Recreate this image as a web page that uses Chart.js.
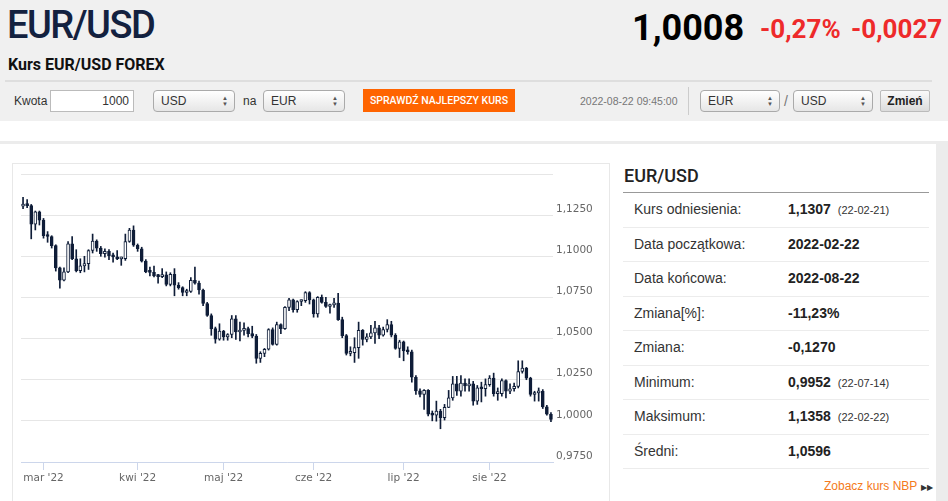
<!DOCTYPE html>
<html lang="pl">
<head>
<meta charset="utf-8">
<title>Kurs EUR/USD FOREX</title>
<script src="https://cdn.jsdelivr.net/npm/chart.js@4.4.1/dist/chart.umd.min.js"></script>
<style>
body{margin:0;width:948px;height:501px;overflow:hidden;background:#fff;font-family:"Liberation Sans",Arial,sans-serif;position:relative;color:#333}
.abs{position:absolute;white-space:nowrap}
.top{left:0;top:0;width:948px;height:121px;background:#f0f0f0}
.title{left:7px;top:6px;font:500 38px/1 Roboto,sans-serif;letter-spacing:-1.5px;color:#13213f}
.big{left:632px;top:10px;font:700 36px/1 Roboto,sans-serif;color:#000}
.red{top:16px;font:700 26px/1 Roboto,sans-serif;color:#ee2a2a}
.sub{left:8px;top:57px;font:700 16px/1 Roboto,sans-serif;color:#111}
.sep{left:5px;top:80px;width:927px;height:2px;background:#dedede}
.lbl{top:90px;line-height:22px;font-size:12px;color:#333}
.inp{top:90px;height:22px;box-sizing:border-box;border:1px solid #bbb;background:#fff;font-size:12px;line-height:20px;text-align:right;padding-right:4px}
.sel{top:90px;height:22px;box-sizing:border-box;border:1px solid #aaa;border-radius:4px;background:linear-gradient(#fff,#e6e6e6);font-size:12px;line-height:20px;padding-left:7px}
.sel i{position:absolute;right:6px;top:4px;font-style:normal;font-size:6px;line-height:6px;color:#555;text-align:center}
.btn{left:363px;top:89px;width:152px;height:23px;background:#ff6400;color:#fff;font:500 10.5px/23px Roboto,sans-serif;text-align:center}
.ts{left:580px;top:90px;line-height:22px;font-size:10.5px;color:#777}
.vsep{left:688px;top:87px;width:1px;height:28px;background:#ccc}
.zm{left:880px;top:90px;width:50px;height:22px;box-sizing:border-box;border:1px solid #bbb;border-radius:2px;background:linear-gradient(#fafafa,#dcdcdc);font-weight:700;font-size:12px;line-height:20px;text-align:center;color:#222}
.band{left:0;top:141px;width:948px;height:3px;background:#ececec}
.rside{left:936px;top:141px;width:12px;height:360px;background:#ececec}
.box{left:12px;top:163px;width:596px;height:345px;border:1px solid #e8e8e8}
.cv{left:13px;top:164px;width:595px;height:337px}
.ph{left:624px;top:167px;font:500 18px/1 Roboto,sans-serif;color:#222}
.pl{left:623px;top:192px;width:306px;height:1px;background:#999}
.rows{left:623px;top:193px;width:306px}
.row{position:relative;height:33.5px;border-bottom:1px solid #ececec;font-size:14px;line-height:33.5px}
.row span{position:absolute;left:11px}
.row b{position:absolute;left:165px;color:#222}
.row b small{font-weight:400;font-size:11px;margin-left:7px;color:#333}
.nbp{left:824px;top:479px;font-size:12px;line-height:14px;color:#f47a20}
.nbp em{font-style:normal;color:#333;font-size:8px;margin-left:4px}
</style>
</head>
<body>
<div class="abs top"></div>
<div class="abs title">EUR/USD</div>
<div class="abs big">1,0008</div>
<div class="abs red" style="left:760px">-0,27%</div>
<div class="abs red" style="left:851px">-0,0027</div>
<div class="abs sub">Kurs EUR/USD FOREX</div>
<div class="abs sep"></div>

<div class="abs lbl" style="left:14px">Kwota</div>
<div class="abs inp" style="left:50px;width:84px">1000</div>
<div class="abs sel" style="left:153px;width:82px">USD<i>▲<br>▼</i></div>
<div class="abs lbl" style="left:243px">na</div>
<div class="abs sel" style="left:263px;width:82px">EUR<i>▲<br>▼</i></div>
<div class="abs btn">SPRAWDŹ NAJLEPSZY KURS</div>
<div class="abs ts">2022-08-22 09:45:00</div>
<div class="abs vsep"></div>
<div class="abs sel" style="left:700px;width:80px">EUR<i>▲<br>▼</i></div>
<div class="abs lbl" style="left:784px;font-size:14px;color:#777">/</div>
<div class="abs sel" style="left:793px;width:80px">USD<i>▲<br>▼</i></div>
<div class="abs zm">Zmień</div>

<div class="abs band"></div>
<div class="abs rside"></div>
<div class="abs box"></div>
<div class="abs cv"><canvas id="kurs"></canvas></div>

<div class="abs ph">EUR/USD</div>
<div class="abs pl"></div>
<div class="abs rows">
  <div class="row"><span>Kurs odniesienia:</span><b>1,1307<small>(22-02-21)</small></b></div>
  <div class="row"><span>Data początkowa:</span><b>2022-02-22</b></div>
  <div class="row"><span>Data końcowa:</span><b>2022-08-22</b></div>
  <div class="row"><span>Zmiana[%]:</span><b>-11,23%</b></div>
  <div class="row"><span>Zmiana:</span><b>-0,1270</b></div>
  <div class="row"><span>Minimum:</span><b>0,9952<small>(22-07-14)</small></b></div>
  <div class="row"><span>Maksimum:</span><b>1,1358<small>(22-02-22)</small></b></div>
  <div class="row"><span>Średni:</span><b>1,0596</b></div>
</div>
<div class="abs nbp">Zobacz kurs NBP<em>▶▶</em></div>

<script>
// sesje 2022-02-22 .. 2022-08-22
var dates = [
  '2022-02-22','2022-02-23','2022-02-24','2022-02-25','2022-02-28',
  '2022-03-01','2022-03-02','2022-03-03','2022-03-04','2022-03-07','2022-03-08','2022-03-09','2022-03-10','2022-03-11',
  '2022-03-14','2022-03-15','2022-03-16','2022-03-17','2022-03-18','2022-03-21','2022-03-22','2022-03-23','2022-03-24',
  '2022-03-25','2022-03-28','2022-03-29','2022-03-30','2022-03-31',
  '2022-04-01','2022-04-04','2022-04-05','2022-04-06','2022-04-07','2022-04-08','2022-04-11','2022-04-12','2022-04-13',
  '2022-04-14','2022-04-15','2022-04-18','2022-04-19','2022-04-20','2022-04-21','2022-04-22','2022-04-25','2022-04-26',
  '2022-04-27','2022-04-28','2022-04-29',
  '2022-05-02','2022-05-03','2022-05-04','2022-05-05','2022-05-06','2022-05-09','2022-05-10','2022-05-11','2022-05-12',
  '2022-05-13','2022-05-16','2022-05-17','2022-05-18','2022-05-19','2022-05-20','2022-05-23','2022-05-24','2022-05-25',
  '2022-05-26','2022-05-27','2022-05-30','2022-05-31',
  '2022-06-01','2022-06-02','2022-06-03','2022-06-06','2022-06-07','2022-06-08','2022-06-09','2022-06-10','2022-06-13',
  '2022-06-14','2022-06-15','2022-06-16','2022-06-17','2022-06-20','2022-06-21','2022-06-22','2022-06-23','2022-06-24',
  '2022-06-27','2022-06-28','2022-06-29','2022-06-30',
  '2022-07-01','2022-07-04','2022-07-05','2022-07-06','2022-07-07','2022-07-08','2022-07-11','2022-07-12','2022-07-13',
  '2022-07-14','2022-07-15','2022-07-18','2022-07-19','2022-07-20','2022-07-21','2022-07-22','2022-07-25','2022-07-26',
  '2022-07-27','2022-07-28','2022-07-29',
  '2022-08-01','2022-08-02','2022-08-03','2022-08-04','2022-08-05','2022-08-08','2022-08-09','2022-08-10','2022-08-11',
  '2022-08-12','2022-08-15','2022-08-16','2022-08-17','2022-08-18','2022-08-19','2022-08-22'
];

var opens = [
  1.1305,1.1310,1.1308,1.1195,1.1270,1.1220,1.1125,1.1120,1.1065,1.0930,
  1.0855,1.0905,1.1075,1.0985,1.0912,1.0942,1.0955,1.1035,1.1093,1.1050,
  1.1016,1.1030,1.1003,1.0996,1.0984,1.0985,1.1090,1.1159,1.1067,1.1046,
  1.0971,1.0905,1.0902,1.0880,1.0876,1.0888,1.0829,1.0890,1.0825,1.0810,
  1.0780,1.0787,1.0854,1.0837,1.0795,1.0713,1.0640,1.0560,1.0497,1.0545,
  1.0510,1.0525,1.0620,1.0540,1.0550,1.0560,1.0530,1.0515,1.0380,1.0410,
  1.0435,1.0555,1.0465,1.0585,1.0560,1.0690,1.0735,1.0675,1.0725,1.0730,
  1.0780,1.0735,1.0650,1.0750,1.0720,1.0695,1.0705,1.0715,1.0615,1.0518,
  1.0410,1.0415,1.0445,1.0550,1.0495,1.0510,1.0535,1.0565,1.0520,1.0555,
  1.0585,1.0520,1.0440,1.0480,1.0425,1.0420,1.0265,1.0182,1.0160,1.0185,
  1.0040,1.0035,1.0060,1.0020,1.0082,1.0140,1.0225,1.0180,1.0230,1.0212,
  1.0225,1.0120,1.0200,1.0195,1.0220,1.0260,1.0165,1.0165,1.0245,1.0180,
  1.0195,1.0210,1.0300,1.0320,1.0260,1.0160,1.0170,1.0180,1.0085,1.0040
];
var highs = [
  1.1358,1.1345,1.1315,1.1275,1.1275,1.1230,1.1150,1.1125,1.1070,1.0935,
  1.0930,1.1090,1.1120,1.1040,1.0985,1.1000,1.1040,1.1135,1.1100,1.1060,
  1.1045,1.1040,1.1020,1.1035,1.0995,1.1135,1.1170,1.1185,1.1075,1.1055,
  1.0980,1.0935,1.0940,1.0890,1.0925,1.0905,1.0900,1.0925,1.0840,1.0815,
  1.0800,1.0870,1.0935,1.0850,1.0800,1.0720,1.0650,1.0570,1.0590,1.0550,
  1.0530,1.0640,1.0640,1.0600,1.0595,1.0570,1.0575,1.0525,1.0420,1.0440,
  1.0560,1.0565,1.0600,1.0590,1.0695,1.0745,1.0740,1.0730,1.0735,1.0785,
  1.0785,1.0740,1.0755,1.0765,1.0750,1.0710,1.0745,1.0775,1.0630,1.0525,
  1.0450,1.0505,1.0600,1.0555,1.0530,1.0580,1.0605,1.0580,1.0570,1.0615,
  1.0605,1.0530,1.0490,1.0485,1.0450,1.0430,1.0275,1.0195,1.0190,1.0190,
  1.0060,1.0120,1.0070,1.0100,1.0185,1.0270,1.0270,1.0275,1.0255,1.0255,
  1.0240,1.0215,1.0235,1.0255,1.0275,1.0290,1.0200,1.0255,1.0250,1.0225,
  1.0230,1.0365,1.0365,1.0325,1.0265,1.0180,1.0200,1.0190,1.0095,1.0050
];
var lows = [
  1.1290,1.1295,1.1106,1.1160,1.1190,1.1110,1.1085,1.1050,1.0910,1.0806,
  1.0850,1.0900,1.0980,1.0905,1.0900,1.0905,1.0920,1.1020,1.1030,1.1000,
  1.0995,1.0980,1.0965,1.0980,1.0945,1.0975,1.1085,1.1060,1.1030,1.0965,
  1.0900,1.0880,1.0875,1.0837,1.0870,1.0820,1.0820,1.0760,1.0800,1.0760,
  1.0760,1.0780,1.0830,1.0770,1.0700,1.0635,1.0520,1.0472,1.0490,1.0490,
  1.0490,1.0505,1.0495,1.0485,1.0520,1.0510,1.0505,1.0350,1.0355,1.0390,
  1.0430,1.0460,1.0460,1.0530,1.0555,1.0670,1.0660,1.0660,1.0700,1.0720,
  1.0710,1.0630,1.0630,1.0715,1.0690,1.0655,1.0690,1.0610,1.0505,1.0400,
  1.0395,1.0355,1.0380,1.0460,1.0480,1.0500,1.0470,1.0500,1.0515,1.0540,
  1.0510,1.0435,1.0385,1.0365,1.0405,1.0235,1.0160,1.0145,1.0070,1.0030,
  1.0000,0.9998,0.9952,1.0005,1.0080,1.0125,1.0155,1.0150,1.0180,1.0180,
  1.0095,1.0100,1.0115,1.0150,1.0210,1.0150,1.0125,1.0150,1.0140,1.0165,
  1.0180,1.0200,1.0290,1.0250,1.0150,1.0120,1.0120,1.0075,1.0035,0.9995
];
var closes = [
  1.1310,1.1308,1.1195,1.1270,1.1220,1.1125,1.1120,1.1065,1.0930,1.0855,
  1.0905,1.1075,1.0985,1.0912,1.0942,1.0955,1.1035,1.1093,1.1050,1.1016,
  1.1030,1.1003,1.0996,1.0984,1.0985,1.1090,1.1159,1.1067,1.1046,1.0971,
  1.0905,1.0902,1.0880,1.0876,1.0888,1.0829,1.0890,1.0825,1.0810,1.0780,
  1.0787,1.0854,1.0837,1.0795,1.0713,1.0640,1.0560,1.0497,1.0545,1.0510,
  1.0525,1.0620,1.0540,1.0550,1.0560,1.0530,1.0515,1.0380,1.0410,1.0435,
  1.0555,1.0465,1.0585,1.0560,1.0690,1.0735,1.0675,1.0725,1.0730,1.0780,
  1.0735,1.0650,1.0750,1.0720,1.0695,1.0705,1.0715,1.0615,1.0518,1.0410,
  1.0415,1.0445,1.0550,1.0495,1.0510,1.0535,1.0565,1.0520,1.0555,1.0585,
  1.0520,1.0440,1.0480,1.0425,1.0420,1.0265,1.0182,1.0160,1.0185,1.0040,
  1.0035,1.0060,1.0020,1.0082,1.0140,1.0225,1.0180,1.0230,1.0212,1.0225,
  1.0120,1.0200,1.0195,1.0220,1.0260,1.0165,1.0165,1.0245,1.0180,1.0195,
  1.0210,1.0300,1.0320,1.0260,1.0160,1.0170,1.0180,1.0085,1.0040,1.0008
];

var yTicks = [0.975, 1.0, 1.025, 1.05, 1.075, 1.1, 1.125, 1.15];
var monthLabels = ["mar '22", "kwi '22", "maj '22", "cze '22", "lip '22", "sie '22"];

var candleDark = '#0f1d38';

// first session of each month after the first one gets a tick
var monthTick = {};
var m = 0;
for (var i = 1; i < dates.length; i++) {
  if (dates[i].slice(5, 7) !== dates[i - 1].slice(5, 7)) {
    monthTick[i] = monthLabels[m++];
  }
}

var bodies = [], wicks = [], fills = [];
for (var j = 0; j < dates.length; j++) {
  bodies.push([opens[j], closes[j]]);
  wicks.push([lows[j], highs[j]]);
  fills.push(closes[j] >= opens[j] ? '#ffffff' : candleDark);
}

var ctx = document.getElementById('kurs');
var kursChart = new Chart(ctx, {
  type: 'bar',
  data: {
    labels: dates,
    datasets: [
      {
        label: 'body',
        data: bodies,
        backgroundColor: fills,
        borderColor: candleDark,
        borderWidth: 1,
        borderSkipped: false,
        barThickness: 3,
        minBarLength: 2,
        grouped: false,
        order: 0
      },
      {
        label: 'wick',
        data: wicks,
        backgroundColor: candleDark,
        borderWidth: 0,
        barThickness: 1,
        grouped: false,
        order: 1
      }
    ]
  },
  options: {
    responsive: true,
    maintainAspectRatio: false,
    animation: false,
    layout: { padding: { left: 8, top: 10, right: 0, bottom: 0 } },
    plugins: { legend: { display: false }, tooltip: { enabled: false } },
    scales: {
      x: {
        type: 'category',
        offset: true,
        grid: {
          offset: false,
          drawOnChartArea: false,
          drawTicks: true,
          tickLength: 8,
          color: function(c) { return monthTick[c.index] ? '#ccd6eb' : 'rgba(0,0,0,0)'; }
        },
        border: { display: true, color: '#ccd6eb' },
        ticks: {
          autoSkip: false,
          maxRotation: 0,
          padding: 2,
          color: '#666',
          font: { family: '"DejaVu Sans", sans-serif', size: 10.5 },
          callback: function(v, idx) { return monthTick[idx] || ''; }
        },
        afterFit: function(s) { s.height = 39; }
      },
      y: {
        position: 'right',
        min: 0.975,
        max: 1.15,
        afterBuildTicks: function(s) { s.ticks = yTicks.map(function(v) { return { value: v }; }); },
        grid: { color: '#e6e6e6', drawTicks: false },
        border: { display: false },
        ticks: {
          padding: 3,
          labelOffset: -6,
          color: '#666',
          font: { family: '"DejaVu Sans", sans-serif', size: 10.5 },
          callback: function(v) { return v > 1.149 ? '' : v.toFixed(4).replace('.', ','); }
        },
        afterFit: function(s) { s.width = 55; }
      }
    }
  }
});
</script>
</body>
</html>
